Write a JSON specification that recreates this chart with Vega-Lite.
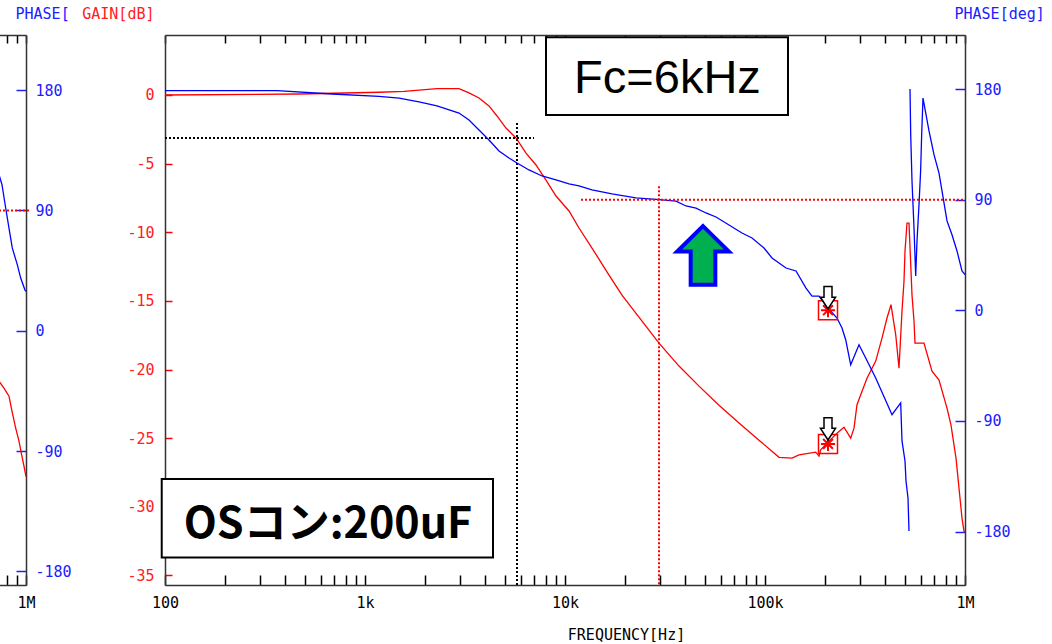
{
  "$schema": "https://vega.github.io/schema/vega-lite/v6.json",
  "background": "white",
  "padding": {"left": -4, "top": 6, "right": 0, "bottom": 0},
  "bounds": "flush",
  "spacing": 139,
  "config": {
    "view": {"stroke": null},
    "axis": {"grid": false, "labelFont": "DejaVu Sans Mono", "labelFontSize": 15, "titleFont": "DejaVu Sans Mono", "titleFontSize": 15, "titleFontWeight": "normal", "domainColor": "#333333", "domainWidth": 1.5, "tickWidth": 1.5, "labelOverlap": false, "labelFlush": false}
  },
  "datasets": {
    "mainGain": [
      {"freq": 100, "gain": 0.0}, {"freq": 468, "gain": 0.07}, {"freq": 1175, "gain": 0.2}, {"freq": 1567, "gain": 0.27}, {"freq": 2291, "gain": 0.46}, {"freq": 2951, "gain": 0.46}, {"freq": 3311, "gain": 0.15}, {"freq": 3715, "gain": -0.22}, {"freq": 4169, "gain": -0.8}, {"freq": 4571, "gain": -1.53}, {"freq": 5070, "gain": -2.41}, {"freq": 5689, "gain": -3.13}, {"freq": 6383, "gain": -4.23}, {"freq": 7161, "gain": -5.1}, {"freq": 8035, "gain": -6.2}, {"freq": 9016, "gain": -7.36}, {"freq": 10471, "gain": -8.45}, {"freq": 11749, "gain": -9.69}, {"freq": 13646, "gain": -11.15}, {"freq": 16596, "gain": -13.12}, {"freq": 19275, "gain": -14.58}, {"freq": 21627, "gain": -15.53}, {"freq": 29512, "gain": -18.08}, {"freq": 37154, "gain": -19.75}, {"freq": 46774, "gain": -21.21}, {"freq": 58884, "gain": -22.6}, {"freq": 74131, "gain": -23.9}, {"freq": 93325, "gain": -25.15}, {"freq": 117490, "gain": -26.4}, {"freq": 136458, "gain": -26.46}, {"freq": 147911, "gain": -26.22}, {"freq": 179300, "gain": -26.02}, {"freq": 186209, "gain": -26.31}, {"freq": 189900, "gain": -25.85}, {"freq": 208930, "gain": -25.22}, {"freq": 229087, "gain": -24.64}, {"freq": 248313, "gain": -24.2}, {"freq": 268200, "gain": -25.0}, {"freq": 278612, "gain": -24.27}, {"freq": 288403, "gain": -22.57}, {"freq": 301000, "gain": -21.84}, {"freq": 323594, "gain": -20.63}, {"freq": 357700, "gain": -19.39}, {"freq": 384592, "gain": -17.71}, {"freq": 407380, "gain": -16.25}, {"freq": 426580, "gain": -15.28}, {"freq": 450400, "gain": -17.47}, {"freq": 467735, "gain": -19.9}, {"freq": 484172, "gain": -15.74}, {"freq": 495450, "gain": -13.56}, {"freq": 501187, "gain": -11.37}, {"freq": 512861, "gain": -9.33}, {"freq": 524807, "gain": -9.33}, {"freq": 537032, "gain": -12.83}, {"freq": 543250, "gain": -14.58}, {"freq": 555904, "gain": -16.47}, {"freq": 562341, "gain": -18.08}, {"freq": 623735, "gain": -18.08}, {"freq": 683912, "gain": -20.12}, {"freq": 741310, "gain": -20.77}, {"freq": 812831, "gain": -22.81}, {"freq": 851138, "gain": -24.05}, {"freq": 901571, "gain": -26.46}, {"freq": 933254, "gain": -28.64}, {"freq": 966051, "gain": -30.83}, {"freq": 988553, "gain": -31.78}, {"freq": 1000000, "gain": -31.8}
    ],
    "mainPhase": [
      {"freq": 100, "phase": 178.7, "seg": 1}, {"freq": 363, "phase": 178.7, "seg": 1}, {"freq": 684, "phase": 176.0, "seg": 1}, {"freq": 1175, "phase": 174.1, "seg": 1}, {"freq": 1479, "phase": 172.7, "seg": 1}, {"freq": 1862, "phase": 169.5, "seg": 1}, {"freq": 2291, "phase": 166.3, "seg": 1}, {"freq": 2951, "phase": 160.5, "seg": 1}, {"freq": 3311, "phase": 154.8, "seg": 1}, {"freq": 3715, "phase": 146.7, "seg": 1}, {"freq": 4169, "phase": 138.6, "seg": 1}, {"freq": 4677, "phase": 129.6, "seg": 1}, {"freq": 5248, "phase": 123.9, "seg": 1}, {"freq": 5754, "phase": 119.9, "seg": 1}, {"freq": 6607, "phase": 114.2, "seg": 1}, {"freq": 7674, "phase": 109.3, "seg": 1}, {"freq": 9016, "phase": 106.1, "seg": 1}, {"freq": 10471, "phase": 102.9, "seg": 1}, {"freq": 11749, "phase": 101.3, "seg": 1}, {"freq": 13646, "phase": 98.0, "seg": 1}, {"freq": 17179, "phase": 94.8, "seg": 1}, {"freq": 22646, "phase": 91.5, "seg": 1}, {"freq": 29512, "phase": 90.0, "seg": 1}, {"freq": 35892, "phase": 88.9, "seg": 1}, {"freq": 40272, "phase": 84.9, "seg": 1}, {"freq": 45186, "phase": 83.2, "seg": 1}, {"freq": 50699, "phase": 79.2, "seg": 1}, {"freq": 56885, "phase": 75.9, "seg": 1}, {"freq": 66069, "phase": 69.4, "seg": 1}, {"freq": 76736, "phase": 62.9, "seg": 1}, {"freq": 86099, "phase": 58.8, "seg": 1}, {"freq": 98855, "phase": 50.7, "seg": 1}, {"freq": 108393, "phase": 42.6, "seg": 1}, {"freq": 127350, "phase": 34.4, "seg": 1}, {"freq": 142889, "phase": 32.0, "seg": 1}, {"freq": 160325, "phase": 18.1, "seg": 1}, {"freq": 171791, "phase": 11.6, "seg": 1}, {"freq": 186209, "phase": 11.6, "seg": 1}, {"freq": 206538, "phase": 1.9, "seg": 1}, {"freq": 229087, "phase": -6.3, "seg": 1}, {"freq": 242661, "phase": -14.4, "seg": 1}, {"freq": 253200, "phase": -23.9, "seg": 1}, {"freq": 268200, "phase": -44.3, "seg": 1}, {"freq": 295121, "phase": -28.0, "seg": 1}, {"freq": 318800, "phase": -38.8, "seg": 1}, {"freq": 357700, "phase": -55.1, "seg": 1}, {"freq": 431519, "phase": -84.9, "seg": 1}, {"freq": 476900, "phase": -75.4, "seg": 1}, {"freq": 484172, "phase": -106.3, "seg": 1}, {"freq": 501187, "phase": -122.6, "seg": 1}, {"freq": 506991, "phase": -138.9, "seg": 1}, {"freq": 518800, "phase": -152.7, "seg": 1}, {"freq": 524807, "phase": -179.6, "seg": 1},
      {"freq": 530884, "phase": 180.0, "seg": 2}, {"freq": 535200, "phase": 142.9, "seg": 2}, {"freq": 543250, "phase": 105.2, "seg": 2}, {"freq": 555904, "phase": 67.0, "seg": 2}, {"freq": 566900, "phase": 27.9, "seg": 2}, {"freq": 575440, "phase": 56.4, "seg": 2}, {"freq": 588844, "phase": 85.9, "seg": 2}, {"freq": 600300, "phase": 114.4, "seg": 2}, {"freq": 607200, "phase": 142.9, "seg": 2}, {"freq": 616595, "phase": 172.7, "seg": 2}, {"freq": 660693, "phase": 145.9, "seg": 2}, {"freq": 699842, "phase": 126.6, "seg": 2}, {"freq": 741310, "phase": 111.7, "seg": 2}, {"freq": 767361, "phase": 97.1, "seg": 2}, {"freq": 812831, "phase": 72.7, "seg": 2}, {"freq": 860994, "phase": 61.5, "seg": 2}, {"freq": 912011, "phase": 48.3, "seg": 2}, {"freq": 966051, "phase": 32.0, "seg": 2}, {"freq": 1000000, "phase": 29.0, "seg": 2}
    ],
    "leftGain": [
      {"freq": 733000, "gain": -20.85}, {"freq": 776200, "gain": -21.36}, {"freq": 822200, "gain": -21.94}, {"freq": 851000, "gain": -23.03}, {"freq": 888100, "gain": -24.27}, {"freq": 922600, "gain": -25.22}, {"freq": 951700, "gain": -26.24}, {"freq": 977000, "gain": -27.04}, {"freq": 994000, "gain": -27.6}, {"freq": 1000000, "gain": -27.8}
    ],
    "leftPhase": [
      {"freq": 733000, "phase": 116.7}, {"freq": 758600, "phase": 109.2}, {"freq": 791600, "phase": 91.8}, {"freq": 822200, "phase": 76.8}, {"freq": 854000, "phase": 61.9}, {"freq": 904700, "phase": 49.4}, {"freq": 940800, "phase": 39.4}, {"freq": 988600, "phase": 30.4}, {"freq": 1000000, "phase": 29.5}
    ],
    "leftRules": [{"f1": 733000, "f2": 1060000, "p1": 90, "p2": 90}],
    "gainRules": [
      {"f1": 100, "f2": 7000, "g1": -3.13, "g2": -3.13},
      {"f1": 5754, "f2": 5754, "g1": -2.04, "g2": -35.7}
    ],
    "phaseRules": [
      {"f1": 12020, "f2": 1000000, "p1": 90, "p2": 90},
      {"f1": 29512, "f2": 29512, "p1": 100.9, "p2": -223.5}
    ],
    "boxes": [
      {"f1": 8035, "f2": 130300, "g1": 4.2, "g2": -1.46},
      {"f1": 96.3, "f2": 4365, "g1": -27.97, "g2": -33.7}
    ],
    "fcLabel": [{"freq": 32546, "gain": 1.19, "label": "Fc=6kHz"}],
    "osLabel": [{"freq": 653, "gain": -31.36, "label": "OSコン:200uF"}],
    "bigArrow": [{"freq": 48980, "gain": -11.69}],
    "gainMarker": [{"freq": 206538, "gain": -25.42}],
    "phaseMarker": [{"freq": 206538, "phase": 0.1}]
  },
  "hconcat": [
    {
      "width": 27,
      "height": 550,
      "layer": [
        {
          "data": {"name": "leftGain"},
          "mark": {"type": "line", "color": "#ff0000", "strokeWidth": 1.3},
          "encoding": {
            "x": {"field": "freq", "type": "quantitative", "scale": {"type": "log", "domain": [733000, 1000000], "nice": false},
              "axis": {"orient": "bottom", "values": [800000, 900000, 1000000], "labelExpr": "datum.value == 1000000 ? '1M' : ''", "title": null, "tickSize": -10, "tickColor": "#000000", "labelPadding": 20, "labelColor": "#000000"}},
            "y": {"field": "gain", "type": "quantitative", "scale": {"domain": [-35.7, 4.37], "nice": false, "zero": false}, "axis": null}
          }
        },
        {
          "layer": [
            {
              "data": {"name": "leftPhase"},
              "mark": {"type": "line", "color": "#0000ff", "strokeWidth": 1.3},
              "encoding": {
                "x": {"field": "freq", "type": "quantitative", "scale": {"type": "log", "domain": [733000, 1000000], "nice": false},
                  "axis": {"orient": "top", "values": [800000, 900000, 1000000], "labels": false, "title": null, "tickSize": -8, "tickColor": "#000000"}},
                "y": {"field": "phase", "type": "quantitative", "scale": {"domain": [-190.2, 221.2], "nice": false, "zero": false},
                  "axis": {"orient": "right", "values": [-180, -90, 0, 90, 180], "labelExpr": "datum.value + ''", "title": "PHASE[", "titleColor": "#2020ff", "titleAngle": 0, "titleAlign": "left", "titleBaseline": "middle", "titleX": -11, "titleY": -22, "labelColor": "#2020ff", "tickColor": "#2020ff", "tickSize": -10, "labelPadding": 19}}
              }
            },
            {
              "data": {"name": "leftRules"},
              "mark": {"type": "rule", "color": "#ff0000", "strokeDash": [2, 2], "strokeWidth": 2},
              "encoding": {
                "x": {"field": "f1", "type": "quantitative", "scale": {"type": "log", "domain": [733000, 1000000], "nice": false}},
                "x2": {"field": "f2"},
                "y": {"field": "p1", "type": "quantitative", "scale": {"domain": [-190.2, 221.2], "nice": false, "zero": false}},
                "y2": {"field": "p2"}
              }
            }
          ]
        }
      ],
      "resolve": {"scale": {"x": "independent", "y": "independent"}}
    },
    {
      "width": 800,
      "height": 550,
      "layer": [
        {
          "layer": [
            {
              "data": {"name": "mainGain"},
              "mark": {"type": "line", "color": "#ff0000", "strokeWidth": 1.3},
              "encoding": {
                "x": {"field": "freq", "type": "quantitative", "scale": {"type": "log", "domain": [100, 1000000], "nice": false},
                  "axis": {"orient": "bottom", "values": [100, 200, 300, 400, 500, 600, 700, 800, 900, 1000, 2000, 3000, 4000, 5000, 6000, 7000, 8000, 9000, 10000, 20000, 30000, 40000, 50000, 60000, 70000, 80000, 90000, 100000, 200000, 300000, 400000, 500000, 600000, 700000, 800000, 900000, 1000000],
                    "labelExpr": "datum.value == 100 ? '100' : datum.value == 1000 ? '1k' : datum.value == 10000 ? '10k' : datum.value == 100000 ? '100k' : datum.value == 1000000 ? '1M' : ''",
                    "title": "FREQUENCY[Hz]", "titleColor": "#000000", "titleX": 461, "titleY": 49, "titleAlign": "center", "titleBaseline": "middle", "tickSize": -10, "tickColor": "#000000", "labelPadding": 20, "labelColor": "#000000"}},
                "y": {"field": "gain", "type": "quantitative", "scale": {"domain": [-35.7, 4.37], "nice": false, "zero": false},
                  "axis": {"orient": "left", "values": [-35, -30, -25, -20, -15, -10, -5, 0], "labelExpr": "datum.value + ''", "title": "GAIN[dB]", "titleColor": "#ff2020", "titleAngle": 0, "titleAlign": "right", "titleBaseline": "middle", "titleX": -11, "titleY": -22, "labelColor": "#ff2020", "tickColor": "#ff0000", "tickSize": -7, "labelPadding": 18}}
              }
            },
            {
              "data": {"name": "gainRules"},
              "mark": {"type": "rule", "color": "#000000", "strokeDash": [2, 2], "strokeWidth": 2},
              "encoding": {
                "x": {"field": "f1", "type": "quantitative", "scale": {"type": "log", "domain": [100, 1000000], "nice": false}},
                "x2": {"field": "f2"},
                "y": {"field": "g1", "type": "quantitative", "scale": {"domain": [-35.7, 4.37], "nice": false, "zero": false}},
                "y2": {"field": "g2"}
              }
            },
            {
              "data": {"name": "boxes"},
              "mark": {"type": "rect", "fill": "#ffffff", "stroke": "#000000", "strokeWidth": 2},
              "encoding": {
                "x": {"field": "f1", "type": "quantitative", "scale": {"type": "log", "domain": [100, 1000000], "nice": false}},
                "x2": {"field": "f2"},
                "y": {"field": "g1", "type": "quantitative", "scale": {"domain": [-35.7, 4.37], "nice": false, "zero": false}},
                "y2": {"field": "g2"}
              }
            },
            {
              "data": {"name": "fcLabel"},
              "mark": {"type": "text", "font": "Liberation Sans", "fontSize": 47, "align": "center", "baseline": "middle", "color": "#000000"},
              "encoding": {
                "x": {"field": "freq", "type": "quantitative", "scale": {"type": "log", "domain": [100, 1000000], "nice": false}},
                "y": {"field": "gain", "type": "quantitative", "scale": {"domain": [-35.7, 4.37], "nice": false, "zero": false}},
                "text": {"field": "label"}
              }
            },
            {
              "data": {"name": "osLabel"},
              "mark": {"type": "text", "font": "Noto Sans CJK JP", "fontWeight": "bold", "fontSize": 43, "align": "center", "baseline": "middle", "color": "#000000"},
              "encoding": {
                "x": {"field": "freq", "type": "quantitative", "scale": {"type": "log", "domain": [100, 1000000], "nice": false}},
                "y": {"field": "gain", "type": "quantitative", "scale": {"domain": [-35.7, 4.37], "nice": false, "zero": false}},
                "text": {"field": "label"}
              }
            },
            {
              "data": {"name": "bigArrow"},
              "mark": {"type": "point", "shape": "M0,-1L0.88,-0.13L0.42,-0.13L0.42,1L-0.42,1L-0.42,-0.13L-0.88,-0.13Z", "size": 3446, "filled": true, "fill": "#00b050", "stroke": "#0000ff", "strokeWidth": 4, "opacity": 1, "fillOpacity": 1},
              "encoding": {
                "x": {"field": "freq", "type": "quantitative", "scale": {"type": "log", "domain": [100, 1000000], "nice": false}},
                "y": {"field": "gain", "type": "quantitative", "scale": {"domain": [-35.7, 4.37], "nice": false, "zero": false}}
              }
            },
            {
              "data": {"name": "gainMarker"},
              "mark": {"type": "point", "shape": "square", "size": 361, "filled": false, "stroke": "#ff0000", "strokeWidth": 1.5, "opacity": 1},
              "encoding": {
                "x": {"field": "freq", "type": "quantitative", "scale": {"type": "log", "domain": [100, 1000000], "nice": false}},
                "y": {"field": "gain", "type": "quantitative", "scale": {"domain": [-35.7, 4.37], "nice": false, "zero": false}}
              }
            },
            {
              "data": {"name": "gainMarker"},
              "mark": {"type": "point", "shape": "M-1,0L1,0M0,-1L0,1M-0.7,-0.7L0.7,0.7M-0.7,0.7L0.7,-0.7", "size": 196, "filled": false, "stroke": "#ff0000", "strokeWidth": 2, "opacity": 1},
              "encoding": {
                "x": {"field": "freq", "type": "quantitative", "scale": {"type": "log", "domain": [100, 1000000], "nice": false}},
                "y": {"field": "gain", "type": "quantitative", "scale": {"domain": [-35.7, 4.37], "nice": false, "zero": false}}
              }
            },
            {
              "data": {"name": "gainMarker"},
              "mark": {"type": "point", "shape": "M-0.36,-1L0.36,-1L0.36,-0.05L0.68,-0.05L0,1L-0.68,-0.05L-0.36,-0.05Z", "size": 493, "filled": true, "fill": "#ffffff", "stroke": "#000000", "strokeWidth": 1.5, "opacity": 1, "yOffset": -15},
              "encoding": {
                "x": {"field": "freq", "type": "quantitative", "scale": {"type": "log", "domain": [100, 1000000], "nice": false}},
                "y": {"field": "gain", "type": "quantitative", "scale": {"domain": [-35.7, 4.37], "nice": false, "zero": false}}
              }
            }
          ]
        },
        {
          "layer": [
            {
              "data": {"name": "mainPhase"},
              "mark": {"type": "line", "color": "#0000ff", "strokeWidth": 1.3},
              "encoding": {
                "x": {"field": "freq", "type": "quantitative", "scale": {"type": "log", "domain": [100, 1000000], "nice": false},
                  "axis": {"orient": "top", "values": [100, 200, 300, 400, 500, 600, 700, 800, 900, 1000, 2000, 3000, 4000, 5000, 6000, 7000, 8000, 9000, 10000, 20000, 30000, 40000, 50000, 60000, 70000, 80000, 90000, 100000, 200000, 300000, 400000, 500000, 600000, 700000, 800000, 900000, 1000000], "labels": false, "title": null, "tickSize": -8, "tickColor": "#000000"}},
                "y": {"field": "phase", "type": "quantitative", "scale": {"domain": [-223.5, 224.0], "nice": false, "zero": false},
                  "axis": {"orient": "right", "values": [-180, -90, 0, 90, 180], "labelExpr": "datum.value + ''", "title": "PHASE[deg]", "titleColor": "#2020ff", "titleAngle": 0, "titleAlign": "left", "titleBaseline": "middle", "titleX": -11, "titleY": -22, "labelColor": "#2020ff", "tickColor": "#2020ff", "tickSize": -10, "labelPadding": 19}},
                "detail": {"field": "seg", "type": "nominal"}
              }
            },
            {
              "data": {"name": "phaseRules"},
              "mark": {"type": "rule", "color": "#ff0000", "strokeDash": [2, 2], "strokeWidth": 2},
              "encoding": {
                "x": {"field": "f1", "type": "quantitative", "scale": {"type": "log", "domain": [100, 1000000], "nice": false}},
                "x2": {"field": "f2"},
                "y": {"field": "p1", "type": "quantitative", "scale": {"domain": [-223.5, 224.0], "nice": false, "zero": false}},
                "y2": {"field": "p2"}
              }
            },
            {
              "data": {"name": "phaseMarker"},
              "mark": {"type": "point", "shape": "square", "size": 361, "filled": false, "stroke": "#ff0000", "strokeWidth": 1.5, "opacity": 1},
              "encoding": {
                "x": {"field": "freq", "type": "quantitative", "scale": {"type": "log", "domain": [100, 1000000], "nice": false}},
                "y": {"field": "phase", "type": "quantitative", "scale": {"domain": [-223.5, 224.0], "nice": false, "zero": false}}
              }
            },
            {
              "data": {"name": "phaseMarker"},
              "mark": {"type": "point", "shape": "M-1,0L1,0M0,-1L0,1M-0.7,-0.7L0.7,0.7M-0.7,0.7L0.7,-0.7", "size": 196, "filled": false, "stroke": "#ff0000", "strokeWidth": 2, "opacity": 1},
              "encoding": {
                "x": {"field": "freq", "type": "quantitative", "scale": {"type": "log", "domain": [100, 1000000], "nice": false}},
                "y": {"field": "phase", "type": "quantitative", "scale": {"domain": [-223.5, 224.0], "nice": false, "zero": false}}
              }
            },
            {
              "data": {"name": "phaseMarker"},
              "mark": {"type": "point", "shape": "M-0.36,-1L0.36,-1L0.36,-0.05L0.68,-0.05L0,1L-0.68,-0.05L-0.36,-0.05Z", "size": 493, "filled": true, "fill": "#ffffff", "stroke": "#000000", "strokeWidth": 1.5, "opacity": 1, "yOffset": -12.5},
              "encoding": {
                "x": {"field": "freq", "type": "quantitative", "scale": {"type": "log", "domain": [100, 1000000], "nice": false}},
                "y": {"field": "phase", "type": "quantitative", "scale": {"domain": [-223.5, 224.0], "nice": false, "zero": false}}
              }
            }
          ]
        }
      ],
      "resolve": {"scale": {"x": "independent", "y": "independent"}}
    }
  ]
}
